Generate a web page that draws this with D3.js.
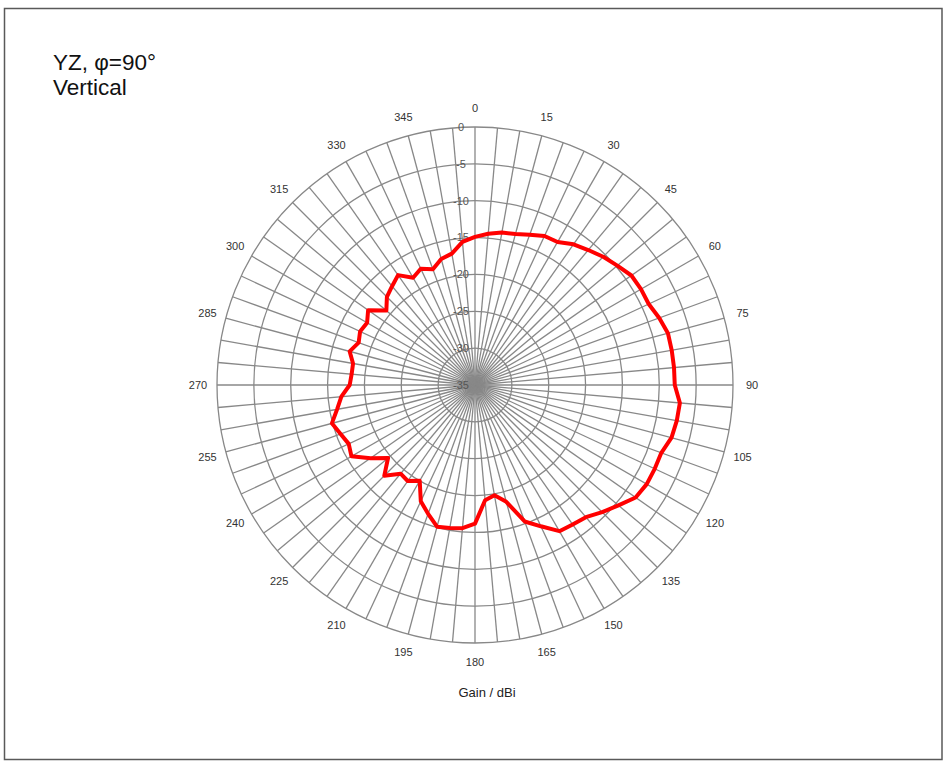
<!DOCTYPE html>
<html>
<head>
<meta charset="utf-8">
<script src="https://cdn.jsdelivr.net/npm/d3@7"></script>
<style>
  html, body { margin: 0; padding: 0; background: #fff; }
  svg { display: block; font-family: "Liberation Sans", Arial, sans-serif; }
</style>
</head>
<body>
<svg id="chart" width="944" height="761"></svg>
<script>
// ---- data ----
const angles = [0,5,10,15,20,25,30,35,40,45,50,55,60,65,70,75,80,85,90,95,100,105,110,115,
  120,125,130,135,140,145,150,155,160,165,170,175,180,185,190,195,200,205,210,215,220,225,
  230,235,240,245,250,255,260,265,270,275,280,285,290,295,300,305,310,315,320,325,330,335,340,345,350,355];
const gains = [-14.9,-14.4,-14.0,-13.8,-13.3,-12.7,-12.6,-11.7,-11.1,-10.4,-9.8,-9.1,-9.0,-9.0,-8.4,-7.9,-7.9,-7.9,
  -7.9,-7.1,-7.2,-7.4,-8.1,-8.1,-8.1,-8.4,-9.6,-10.6,-11.6,-11.9,-12.1,-13.85,-15.3,-18.6,-19.8,-19.3,
  -16.2,-15.5,-15.3,-15.1,-16.4,-17.6,-20.0,-19.1,-19.3,-17.6,-19.6,-17.7,-15.65,-16.1,-15.6,-14.9,-16.0,-16.8,
  -18.0,-18.2,-18.2,-17.4,-18.2,-17.8,-18.1,-17.3,-19.3,-18.1,-17.5,-16.8,-18.2,-17.6,-18.3,-17.3,-16.9,-15.5];
const ringTicks = [0,-5,-10,-15,-20,-25,-30,-35];
const angleLabels = [0,15,30,45,60,75,90,105,120,135,150,165,180,195,210,225,240,255,270,285,300,315,330,345];
const spokeAngles = angles;
const titleLines = ["YZ, \u03c6=90\u00b0", "Vertical"];
const axisTitle = "Gain / dBi";

// ---- layout ----
const svg = d3.select("#chart");
const cx = 475, cy = 385, R = 258;
const rScale = d3.scaleLinear().domain([-35, 0]).range([0, R]);
const aScale = d3.scaleLinear().domain([0, 360]).range([0, 2 * Math.PI]);

// frame
svg.append("rect").attr("x", 4.5).attr("y", 8.5).attr("width", 937.5).attr("height", 751)
  .attr("fill", "none").attr("stroke", "#595959").attr("stroke-width", 1.5);

// title
const t = svg.append("text").attr("x", 53).attr("y", 70).attr("font-size", 22.5).attr("fill", "#111");
titleLines.forEach((s, i) => t.append("tspan").attr("x", 53).attr("dy", i === 0 ? 0 : 25).text(s));

const g = svg.append("g").attr("transform", `translate(${cx},${cy})`);

// spokes
g.selectAll("line.spoke").data(spokeAngles).join("line")
  .attr("class", "spoke")
  .attr("x1", 0).attr("y1", 0)
  .attr("x2", d => R * Math.sin(aScale(d)))
  .attr("y2", d => -R * Math.cos(aScale(d)))
  .attr("stroke", "#888").attr("stroke-width", 1.3);

// rings
g.selectAll("circle.ring").data(ringTicks.filter(d => d > -35)).join("circle")
  .attr("class", "ring")
  .attr("r", d => rScale(d))
  .attr("fill", "none").attr("stroke", "#888").attr("stroke-width", 1.3);

// ring labels
g.selectAll("text.rl").data(ringTicks).join("text")
  .attr("class", "rl")
  .attr("x", -14).attr("y", d => -rScale(d))
  .attr("dy", "0.35em")
  .attr("text-anchor", "middle")
  .attr("font-size", 11).attr("fill", "#555")
  .text(d => d);

// data line
const line = d3.lineRadial()
  .angle((d, i) => aScale(angles[i]))
  .radius(d => rScale(d))
  .curve(d3.curveLinearClosed);
g.append("path").datum(gains)
  .attr("d", line)
  .attr("fill", "none").attr("stroke", "#ff0000").attr("stroke-width", 4)
  .attr("stroke-linejoin", "round");

// angle labels
const LR = 277;
g.selectAll("text.al").data(angleLabels).join("text")
  .attr("class", "al")
  .attr("x", d => LR * Math.sin(aScale(d)))
  .attr("y", d => -LR * Math.cos(aScale(d)))
  .attr("dy", "0.35em")
  .attr("text-anchor", "middle")
  .attr("font-size", 11).attr("fill", "#333")
  .text(d => d);

// axis title
svg.append("text").attr("x", 487).attr("y", 697).attr("text-anchor", "middle")
  .attr("font-size", 13).attr("fill", "#222").text(axisTitle);
</script>
</body>
</html>
